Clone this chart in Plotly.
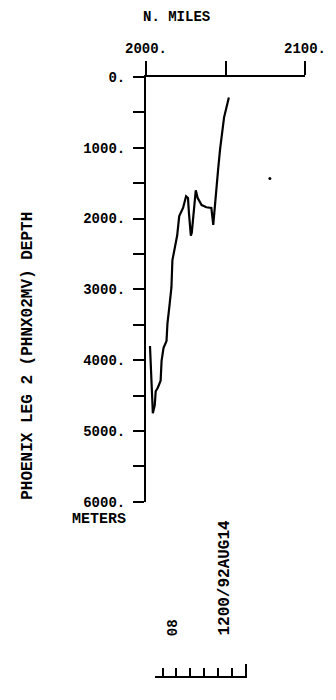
import plotly.graph_objects as go

# Bathymetric profile along the track: distance (nautical miles) vs depth (m)
distance_nm = [2002.5, 2003.1, 2003.7, 2004.3, 2005.5, 2006.1, 2007.4, 2009.2,
               2009.8, 2011.0, 2012.9, 2013.5, 2014.7, 2016.0, 2016.6, 2018.4,
               2019.6, 2020.9, 2023.3, 2025.2, 2026.4, 2027.0, 2028.2, 2028.8,
               2030.1, 2031.3, 2032.5, 2035.0, 2038.0, 2041.1, 2042.3, 2042.9,
               2043.6, 2044.8, 2045.4, 2046.6, 2047.9, 2049.1, 2050.3, 2052.1]
depth_m = [3800, 4220, 4570, 4750, 4640, 4440, 4390, 4290,
           4010, 3830, 3730, 3480, 3245, 2970, 2590, 2380,
           2240, 1965, 1850, 1685, 1710, 1920, 2240, 2200,
           1825, 1600, 1710, 1810, 1840, 1850, 2090, 1920,
           1710, 1435, 1295, 1020, 740, 570, 460, 290]

# isolated sounding off the main profile
spot_nm = [2077.9]
spot_m = [1435]

x_ticks = [2000, 2100]
x_tick_text = ["2000.", "2100."]
x_minor = [2050]
y_ticks = [0, 1000, 2000, 3000, 4000, 5000, 6000]
y_tick_text = ["0.", "1000.", "2000.", "3000.", "4000.", "5000.", "6000."]
y_minor = [500, 1500, 2500, 3500, 4500, 5500]

# small time scale bar under the plot
scale_major = [6]
scale_minor = [0, 1, 2, 3, 4, 5]

FONT = "Liberation Mono"
W, H = 336, 700
ML, MR, MT, MB = 146, 27, 77, 10
PW, PH = W - ML - MR, H - MT - MB


def px(x):
    return (x - ML) / PW


def py(y):
    return (H - MB - y) / PH


fig = go.Figure()
fig.add_trace(go.Scatter(x=distance_nm, y=depth_m, mode="lines",
                         line=dict(color="black", width=2.2),
                         showlegend=False, hoverinfo="skip"))
fig.add_trace(go.Scatter(x=spot_nm, y=spot_m, mode="markers",
                         marker=dict(color="black", size=3),
                         showlegend=False, hoverinfo="skip"))
fig.add_trace(go.Scatter(x=[None], y=[None], xaxis="x2", yaxis="y2",
                         showlegend=False, hoverinfo="skip"))

tick_font = dict(family=FONT, size=14, color="black", weight="bold")

fig.update_layout(
    width=W, height=H,
    margin=dict(l=ML, r=MR, t=MT, b=MB),
    paper_bgcolor="white", plot_bgcolor="white",
    font=dict(family=FONT, color="black"),
    xaxis=dict(
        range=[2000, 2100], side="top", anchor="y",
        showgrid=False, zeroline=False,
        showline=True, linecolor="black", linewidth=2,
        ticks="outside", ticklen=14, tickwidth=2, tickcolor="black",
        tickvals=x_ticks, ticktext=x_tick_text, tickfont=tick_font,
        ticklabelstandoff=2,
        minor=dict(tickvals=x_minor, ticks="outside", ticklen=14,
                   tickwidth=2, tickcolor="black", showgrid=False),
    ),
    yaxis=dict(
        range=[6000, 0], domain=[py(508), 1], anchor="x",
        showgrid=False, zeroline=False,
        showline=True, linecolor="black", linewidth=2,
        ticks="outside", ticklen=11, tickwidth=2, tickcolor="black",
        tickvals=y_ticks, ticktext=y_tick_text, tickfont=tick_font,
        ticklabelstandoff=5,
        minor=dict(tickvals=y_minor, ticks="outside", ticklen=11,
                   tickwidth=2, tickcolor="black", showgrid=False),
    ),
    xaxis2=dict(
        range=[-0.56, 6.14], domain=[px(155), px(250)], anchor="y2",
        showgrid=False, zeroline=False, showticklabels=False,
        showline=True, linecolor="black", linewidth=2,
        ticks="inside", ticklen=12, tickwidth=2, tickcolor="black",
        tickvals=scale_major,
        minor=dict(tickvals=scale_minor, ticks="inside", ticklen=8,
                   tickwidth=2, tickcolor="black", showgrid=False),
    ),
    yaxis2=dict(domain=[py(685), py(660)], anchor="x2", visible=False,
                range=[0, 1]),
)


def label(text, x, y, size=14, angle=0, xanchor="center"):
    fig.add_annotation(text=text, x=px(x), y=py(y), xref="paper",
                       yref="paper", xanchor=xanchor, yanchor="middle",
                       textangle=angle, showarrow=False,
                       font=dict(family=FONT, size=size, color="black",
                                 weight="bold"))


label("N. MILES", 177, 16)
label("METERS", 128, 526, size=15, xanchor="right")
label("PHOENIX LEG 2 (PHNX02MV) DEPTH", 25, 360, size=16, angle=-90)
label("1200/92AUG14", 227, 585, size=16, angle=-90)
label("08", 173, 636, angle=-90)

fig.write_html("out.html")
